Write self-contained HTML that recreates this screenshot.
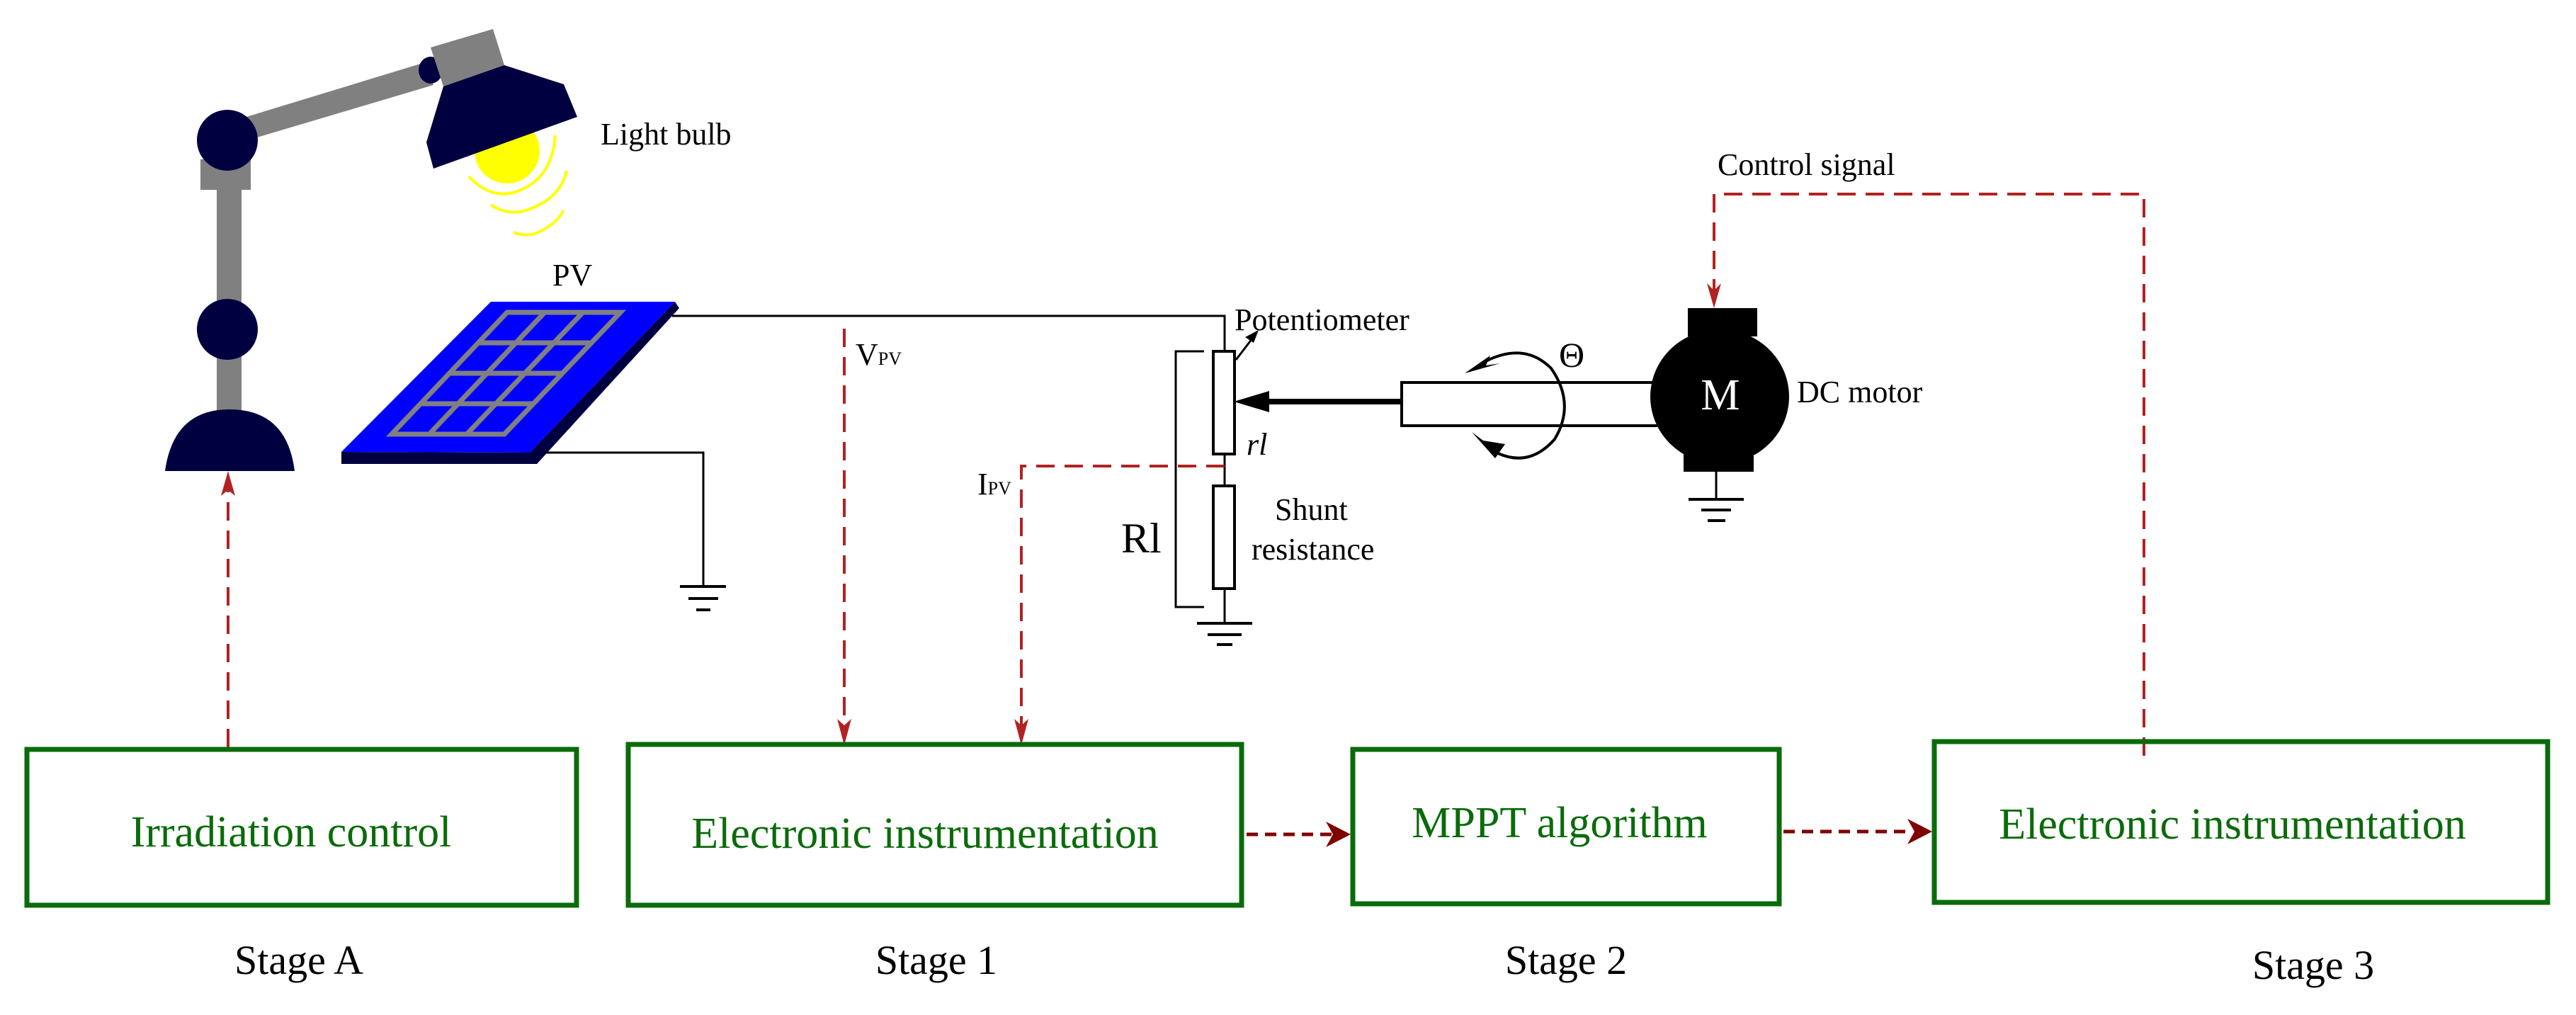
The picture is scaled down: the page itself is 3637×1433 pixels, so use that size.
<!DOCTYPE html>
<html><head><meta charset="utf-8"><style>
html,body{margin:0;padding:0;background:#fff;}
svg{display:block;}
</style></head><body>
<svg width="3637" height="1433" viewBox="0 0 3637 1433" xmlns="http://www.w3.org/2000/svg" font-family="'Liberation Serif', serif">
<!-- Lamp -->
<rect x="306" y="260" width="35" height="320" fill="#808080"/>
<rect x="283" y="225" width="71" height="43" fill="#808080"/>
<polygon points="348,165 597,89 612,120 363,194" fill="#808080"/>
<ellipse cx="321" cy="198" rx="43" ry="43" fill="#000040"/>
<ellipse cx="321" cy="465" rx="43" ry="43" fill="#000040"/>
<path d="M233,665 Q245,578 324,578 Q405,578 416,665 Z" fill="#000040"/>
<circle cx="716" cy="213" r="46" fill="#ffff00"/>
<ellipse cx="608" cy="99" rx="17" ry="19" fill="#000040"/>
<polygon points="608,67 696,41 712,92 626,122" fill="#808080"/>
<polygon points="712,92 796,119 815,165 612,238 602,201 626,122" fill="#000040"/>
<g fill="none" stroke="#ffff00" stroke-width="4">
<path d="M662,249 Q690,280 725,272 Q780,255 784,191"/>
<path d="M693,289 Q712,302 735,299 Q790,285 800,241"/>
<path d="M725,328 Q740,334 755,330 Q785,318 796,297"/>
</g>
<text x="848" y="204" font-size="44">Light bulb</text>
<!-- PV -->
<text x="780" y="403" font-size="44">PV</text>
<polygon points="959,435 758,655 482,655 482,638 748,639 953,426" fill="#000040"/>
<polygon points="693,426 953,426 748,639 482,638" fill="#0000ff"/>
<g stroke="#808080" stroke-width="7" fill="none">
<polygon points="716,441 876,441 712,613 553,613"/>
<line x1="675" y1="484" x2="835" y2="484"/>
<line x1="634" y1="527" x2="794" y2="527"/>
<line x1="594" y1="570" x2="753" y2="570"/>
<line x1="769" y1="441" x2="606" y2="613"/>
<line x1="823" y1="441" x2="659" y2="613"/>
</g>
<!-- wires -->
<g stroke="#000" stroke-width="3" fill="none">
<polyline points="949,446 1729,446 1729,496"/>
<polyline points="769,639 993,639 993,828"/>
<line x1="1729" y1="641" x2="1729" y2="686"/>
<line x1="1729" y1="831" x2="1729" y2="880"/>
<polyline points="1700,496 1660,496 1660,857 1700,857"/>
<line x1="2423" y1="665" x2="2423" y2="705"/>
</g>
<g stroke="#000" stroke-width="4">
<line x1="960" y1="828" x2="1025" y2="828"/><line x1="972" y1="845" x2="1014" y2="845"/><line x1="983" y1="861" x2="1003" y2="861"/>
<line x1="1690" y1="880" x2="1768" y2="880"/><line x1="1705" y1="896" x2="1753" y2="896"/><line x1="1718" y1="910" x2="1740" y2="910"/>
<line x1="2384" y1="705" x2="2462" y2="705"/><line x1="2402" y1="720" x2="2444" y2="720"/><line x1="2411" y1="735" x2="2436" y2="735"/>
</g>
<!-- pot & shunt -->
<rect x="1713" y="496" width="30" height="145" fill="#fff" stroke="#000" stroke-width="4"/>
<rect x="1713" y="686" width="30" height="145" fill="#fff" stroke="#000" stroke-width="4"/>
<line x1="1745" y1="508" x2="1768" y2="478" stroke="#000" stroke-width="3"/>
<polygon points="1777,466 1758,476 1770,484" fill="#000"/>
<!-- thick arrow -->
<line x1="1979" y1="567" x2="1785" y2="567" stroke="#000" stroke-width="8"/>
<polygon points="1742,567 1792,552 1792,582" fill="#000"/>
<!-- shaft -->
<polyline points="2340,540 1979,540 1979,601 2340,601" fill="none" stroke="#000" stroke-width="4"/>
<!-- motor -->
<rect x="2383" y="435" width="98" height="40" fill="#000"/>
<rect x="2377" y="630" width="99" height="36" fill="#000"/>
<ellipse cx="2428" cy="560" rx="98" ry="95" fill="#000"/>
<text x="2429" y="578" font-size="62" fill="#fff" text-anchor="middle">M</text>
<text x="2537" y="568" font-size="44">DC motor</text>
<!-- rotation -->
<path d="M2090,514 Q2150,480 2190,520 Q2225,570 2195,620 Q2160,660 2115,640" fill="none" stroke="#000" stroke-width="4"/>
<polygon points="2068,527 2104,502 2098,516 2118,513" fill="#000"/>
<polygon points="2111,647 2078,610 2094,622 2125,627" fill="#000"/>
<text x="2201" y="518" font-size="50">Θ</text>
<!-- labels -->
<text x="1743" y="466" font-size="44">Potentiometer</text>
<text x="1760" y="642" font-size="44" font-style="italic">rl</text>
<text x="1583" y="780" font-size="60">Rl</text>
<text x="1800" y="734" font-size="44">Shunt</text>
<text x="1767" y="790" font-size="44">resistance</text>
<text x="1208" y="515" font-size="44">V<tspan font-size="26">PV</tspan></text>
<text x="1380" y="698" font-size="44">I<tspan font-size="26">PV</tspan></text>
<text x="2425" y="247" font-size="44">Control signal</text>
<!-- dashed red -->
<g stroke="#b22222" stroke-width="4" fill="none" stroke-dasharray="26,14">
<line x1="322" y1="1055" x2="322" y2="690"/>
<line x1="1192" y1="464" x2="1192" y2="1030"/>
<polyline points="1729,658 1442,658 1442,1030"/>
<polyline points="3027,1067 3027,274 2420,274 2420,420"/>
</g>
<g fill="#b22222">
<polygon points="322,665 312,700 322,692 332,700"/>
<polygon points="1192,1052 1182,1015 1192,1024 1202,1015"/>
<polygon points="1442,1052 1432,1015 1442,1024 1452,1015"/>
<polygon points="2420,435 2410,400 2420,410 2430,400"/>
</g>
<g stroke="#800000" stroke-width="5" fill="none" stroke-dasharray="16,10">
<line x1="1760" y1="1178" x2="1880" y2="1178"/>
<line x1="2518" y1="1174" x2="2700" y2="1174"/>
</g>
<g fill="#800000">
<polygon points="1907,1178 1872,1160 1882,1178 1872,1196"/>
<polygon points="2728,1174 2693,1156 2703,1174 2693,1192"/>
</g>
<!-- boxes -->
<g fill="none" stroke="#0a6b0a" stroke-width="7">
<rect x="38" y="1058" width="776" height="220"/>
<rect x="887" y="1051" width="866" height="227"/>
<rect x="1910" y="1058" width="602" height="218"/>
<rect x="2731" y="1047" width="866" height="227"/>
</g>
<g fill="#0a6b0a" font-size="62" text-anchor="middle">
<text x="411" y="1195">Irradiation control</text>
<text x="1306" y="1197">Electronic instrumentation</text>
<text x="2202" y="1182">MPPT algorithm</text>
<text x="3152" y="1184">Electronic instrumentation</text>
</g>
<g font-size="58" text-anchor="middle">
<text x="422" y="1375">Stage A</text>
<text x="1322" y="1375">Stage 1</text>
<text x="2211" y="1375">Stage 2</text>
<text x="3266" y="1382">Stage 3</text>
</g>
</svg>
</body></html>
